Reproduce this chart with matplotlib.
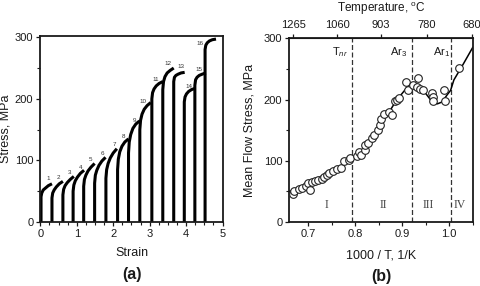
import matplotlib
matplotlib.use("Agg")
import matplotlib.pyplot as plt
from matplotlib.ticker import MultipleLocator

plt.rcParams['font.family'] = ['Liberation Sans', 'DejaVu Sans']
plt.rcParams['mathtext.fontset'] = 'custom'
plt.rcParams['mathtext.rm'] = 'Liberation Sans'
plt.rcParams['mathtext.it'] = 'Liberation Sans:italic'

# ---------------- data: panel (a) ----------------
pass_start = [0.02, 0.32, 0.62, 0.90, 1.19, 1.49, 1.80, 2.12, 2.42, 2.73,
              3.06, 3.36, 3.66, 3.95, 4.24, 4.52]
strain_offsets = [0.0, 0.0, 0.02, 0.06, 0.12, 0.20, 0.30]
pass_stress = [
    [0, 41, 47, 52, 55, 59, 62],
    [0, 39, 47, 52, 57, 62, 66],
    [0, 44, 53, 59, 64, 69, 74],
    [0, 50, 60, 67, 73, 79, 84],
    [0, 58, 69, 76, 83, 89, 95],
    [0, 63, 76, 84, 92, 99, 105],
    [0, 71, 85, 95, 104, 112, 119],
    [0, 85, 102, 114, 123, 130, 135],
    [0, 112, 130, 142, 152, 159, 164],
    [0, 150, 165, 175, 183, 189, 194],
    [0, 200, 210, 216, 221, 225, 228],
    [0, 215, 228, 236, 242, 246, 250],
    [0, 228, 235, 238, 240, 242, 243],
    [0, 195, 203, 208, 212, 215, 217],
    [0, 222, 231, 235, 238, 240, 242],
    [0, 280, 287, 291, 294, 296, 297],
]
pass_labels = [str(i) for i in range(1, 17)]
label_strain = [0.21, 0.50, 0.80, 1.10, 1.37, 1.69, 2.02, 2.27, 2.57, 2.82,
                3.17, 3.49, 3.86, 4.07, 4.36, 4.39]
label_stress = [70, 72, 81, 89, 101, 111, 126, 139, 165, 195,
                232, 258, 252, 220, 248, 290]

# ---------------- data: panel (b) ----------------
inv_T = [0.668, 0.671, 0.680, 0.688, 0.695, 0.700, 0.703, 0.709, 0.715, 0.722,
         0.730, 0.734, 0.740, 0.745, 0.752, 0.762, 0.771, 0.777, 0.786, 0.790,
         0.803, 0.808, 0.812, 0.821, 0.820, 0.828, 0.835, 0.841, 0.848, 0.853,
         0.856, 0.861, 0.871, 0.878, 0.884, 0.888, 0.894, 0.908, 0.912, 0.924,
         0.931, 0.934, 0.938, 0.945, 0.963, 0.965, 0.965, 0.990, 0.991, 1.020]
mfs = [45, 51, 54, 56, 58, 63, 52, 66, 67, 69,
       70, 73, 77, 80, 83, 86, 88, 99, 101, 104,
       108, 115, 109, 118, 126, 129, 137, 142, 150, 158,
       168, 176, 180, 175, 197, 200, 202, 229, 215, 224,
       220, 235, 217, 216, 210, 204, 197, 216, 197, 251]
fit_x = [0.66, 0.70, 0.75, 0.80, 0.83, 0.86, 0.871, 0.888, 0.90, 0.915, 0.93,
         0.94, 0.955, 0.965, 0.975, 0.985, 0.995, 1.003, 1.01, 1.03, 1.05]
fit_y = [50, 60, 80, 105, 130, 165, 178, 199, 210, 224, 225,
         220, 205, 195, 193, 196, 207, 215, 232, 258, 285]
boundary_x = [0.794, 0.920, 1.003]
boundary_names = [r'T$_{nr}$', r'Ar$_3$', r'Ar$_1$']
boundary_name_x = [0.768, 0.893, 0.984]
region_names = ['I', 'II', 'III', 'IV']
region_x = [0.740, 0.859, 0.956, 1.023]
temp_labels = ['1265', '1060', '903', '780', '680']
temp_pos = [0.668, 0.762, 0.855, 0.953, 1.048]

# ---------------- figure ----------------
W, H = 480, 286
fig = plt.figure(figsize=(W / 100, H / 100), dpi=100)
ink = '#1a1a1a'

def setup(ax):
    for s in ax.spines.values():
        s.set_linewidth(1.3)
        s.set_color(ink)
    ax.tick_params(direction='out', length=3, width=0.9, labelsize=8,
                   colors=ink, pad=2)
    ax.tick_params(which='minor', direction='out', length=2, width=0.8, colors=ink)

axa = fig.add_axes([40.3 / W, (H - 222) / H, 183 / W, 186 / H])
setup(axa)
for s0, ys in zip(pass_start, pass_stress):
    xs = [s0 + o for o in strain_offsets]
    axa.plot(xs, ys, color='black', lw=2.2, solid_capstyle='butt')
for lab, lx, ly in zip(pass_labels, label_strain, label_stress):
    axa.text(lx, ly, lab, fontsize=4.5, ha='center', va='center', color='#333')
axa.set_xlim(0, 5.02)
axa.set_ylim(0, 302)
axa.xaxis.set_major_locator(MultipleLocator(1))
axa.xaxis.set_minor_locator(MultipleLocator(0.25))
axa.yaxis.set_major_locator(MultipleLocator(100))
axa.yaxis.set_minor_locator(MultipleLocator(50))
axa.set_xlabel('Strain', fontsize=9, color=ink)
axa.set_ylabel('Stress, MPa', fontsize=9, color=ink)
axa.xaxis.set_label_coords(0.5, -0.134)
axa.yaxis.set_label_coords(-0.16, 0.5)
fig.text(131.8 / W, 1 - 275 / H, '(a)', fontsize=11.5, fontweight='bold',
         ha='center', va='center', color=ink)

axb = fig.add_axes([289.3 / W, (H - 222) / H, 183.4 / W, (222 - 38.3) / H])
setup(axb)
axb.plot(fit_x, fit_y, color='black', lw=1.1, zorder=2)
axb.plot(inv_T, mfs, 'o', mfc='white', mec='#222', mew=0.8, ms=5.5, zorder=3)
for bx in boundary_x:
    axb.axvline(bx, color='#333', lw=0.9, dashes=(4, 2), zorder=1)
for nm, nx in zip(boundary_names, boundary_name_x):
    axb.text(nx, 278, nm, fontsize=8, ha='center', va='center', color=ink)
for rn, rx in zip(region_names, region_x):
    axb.text(rx, 28, rn, fontsize=8.5, ha='center', va='center', color='#444',
             family=['Liberation Serif', 'DejaVu Serif'])
axb.set_xlim(0.66, 1.05)
axb.set_ylim(0, 300)
axb.xaxis.set_major_locator(MultipleLocator(0.1))
axb.xaxis.set_minor_locator(MultipleLocator(0.05))
axb.yaxis.set_major_locator(MultipleLocator(100))
axb.yaxis.set_minor_locator(MultipleLocator(50))
axb.set_xticks([0.7, 0.8, 0.9, 1.0])
axb.set_xticklabels(['0.7', '0.8', '0.9', '1.0'])
axb.set_xlabel('1000 / T, 1/K', fontsize=9, color=ink)
axb.set_ylabel('Mean Flow Stress, MPa', fontsize=9, color=ink)
axb.xaxis.set_label_coords(0.5, -0.147)
axb.yaxis.set_label_coords(-0.187, 0.5)
top = axb.secondary_xaxis('top')
top.set_xticks(temp_pos)
top.set_xticklabels(temp_labels)
top.tick_params(direction='out', length=3, width=0.9, labelsize=8, colors=ink, pad=3)
fig.text(381 / W, 1 - 9 / H, 'Temperature, $^{\\mathrm{o}}$C', fontsize=8.5,
         ha='center', va='center', color=ink)
fig.text(381 / W, 1 - 276 / H, '(b)', fontsize=11.5, fontweight='bold',
         ha='center', va='center', color=ink)

fig.savefig('out.png', dpi=100)
